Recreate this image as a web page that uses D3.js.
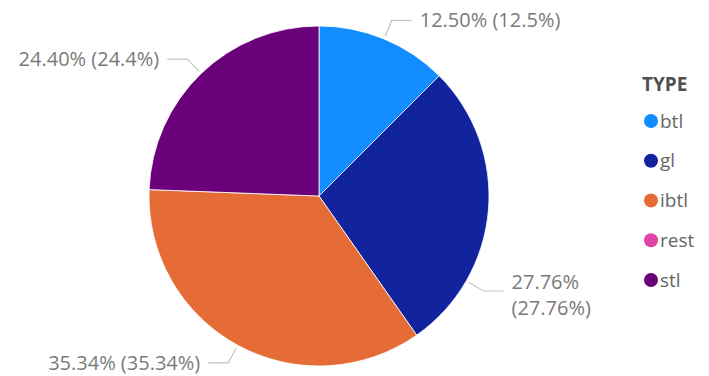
<!DOCTYPE html>
<html>
<head>
<meta charset="utf-8">
<script src="https://cdn.jsdelivr.net/npm/d3@7/dist/d3.min.js"></script>
<style>
  html, body { margin: 0; padding: 0; background: #fff; }
  svg { display: block; }
  text { font-family: "Segoe UI", "Open Sans", sans-serif; }
</style>
</head>
<body>
<svg id="chart" width="709" height="376"></svg>
<script>
// data
const types = ['btl', 'gl', 'ibtl', 'rest', 'stl'];
const shares = [12.5, 27.76, 35.34, 0, 24.4];
const shareLabels = ['12.50% (12.5%)', '27.76% (27.76%)', '35.34% (35.34%)', '', '24.40% (24.4%)'];
const typeColors = ['#118DFF', '#12239E', '#E66C37', '#E044A7', '#6B007B'];

const CX = 319;
const CY = 196;
const R = 170;

// Power BI nudges the gl label lower and wraps it
const labelAngleOverride = { gl: 120 };
const wrapLabel = { gl: true };

const svg = d3.select('#chart');

const color = d3.scaleOrdinal().domain(types).range(typeColors);

const rows = types.map((t, i) => ({ type: t, value: shares[i], label: shareLabels[i] }));

const pie = d3.pie()
  .sort(null)
  .value(d => d.value);

const arc = d3.arc()
  .innerRadius(0)
  .outerRadius(R);

const arcs = pie(rows).filter(a => a.data.value > 0);

const g = svg.append('g')
  .attr('transform', `translate(${CX}, ${CY})`);

g.selectAll('path.slice')
  .data(arcs)
  .enter()
  .append('path')
    .classed('slice', true)
    .attr('d', arc)
    .style('fill', d => color(d.data.type))
    .style('stroke', '#fff')
    .style('stroke-width', 0.8);

// leader lines + labels
const polar = (ang, r) => [r * Math.sin(ang), -r * Math.cos(ang)];

arcs.forEach(a => {
  let ang = labelAngleOverride[a.data.type] !== undefined
    ? labelAngleOverride[a.data.type] * Math.PI / 180
    : (a.startAngle + a.endAngle) / 2;

  let p0 = polar(ang, R + 3);
  let p1 = polar(ang, R + 20);
  let right = Math.sin(ang) >= 0;
  let dir = right ? 1 : -1;
  let p2 = [p1[0] + dir * 20, p1[1]];

  g.append('polyline')
    .attr('points', [p0, p1, p2].map(p => p.join(',')).join(' '))
    .style('fill', 'none')
    .style('stroke', '#c4c4c4')
    .style('stroke-width', 1.2);

  let tx = p2[0] + dir * 8;

  if (wrapLabel[a.data.type]) {
    // two stacked lines, one text each
    a.data.label.split(' ').forEach((s, i) => {
      g.append('text')
        .attr('x', tx)
        .attr('y', p2[1] - 9 + i * 26)
        .attr('dy', '0.35em')
        .attr('text-anchor', right ? 'start' : 'end')
        .style('font-size', '20px')
        .style('fill', '#7a7a7a')
        .text(s);
    });
  } else {
    g.append('text')
      .attr('x', tx)
      .attr('y', p2[1])
      .attr('dy', '0.35em')
      .attr('text-anchor', right ? 'start' : 'end')
      .style('font-size', '20px')
      .style('fill', '#7a7a7a')
      .text(a.data.label);
  }
});

// legend
const legend = svg.append('g')
  .attr('transform', 'translate(642, 0)');

legend.append('text')
  .attr('x', 0)
  .attr('y', 84)
  .attr('dy', '0.35em')
  .style('font-size', '19px')
  .style('font-weight', 'bold')
  .style('fill', '#505050')
  .text('TYPE');

const legendY = d3.scalePoint().domain(types).range([121, 280]);

const items = legend.selectAll('g.item')
  .data(types)
  .enter()
  .append('g')
    .classed('item', true)
    .attr('transform', d => `translate(0, ${legendY(d)})`);

items.append('circle')
  .attr('cx', 9)
  .attr('cy', 0)
  .attr('r', 7)
  .style('fill', d => color(d));

items.append('text')
  .attr('x', 18)
  .attr('y', 0)
  .attr('dy', '0.35em')
  .style('font-size', '19px')
  .style('fill', '#666')
  .text(d => d);
</script>
</body>
</html>
